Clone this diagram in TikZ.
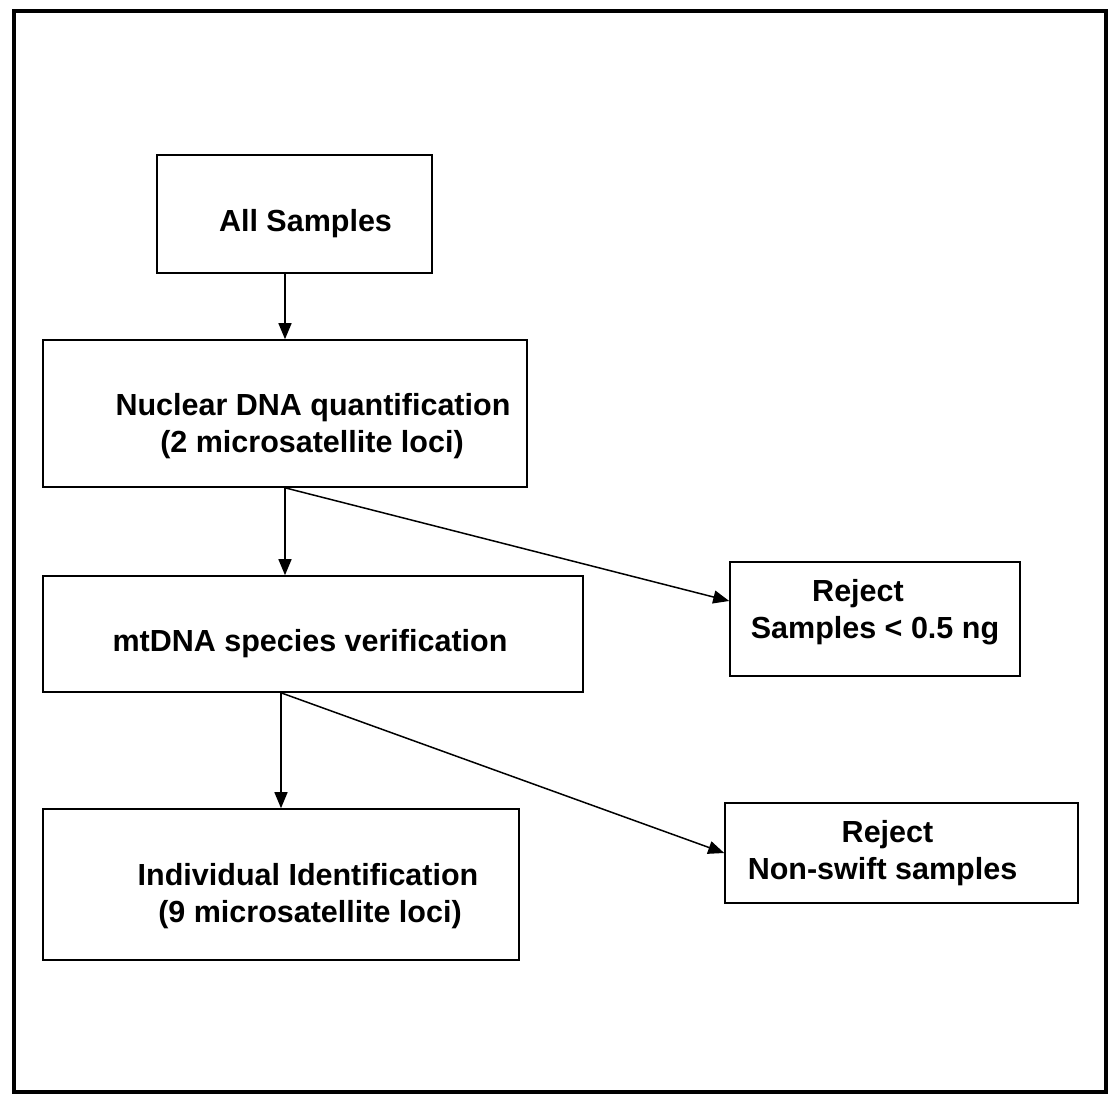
\documentclass[tikz,border=0pt]{standalone}
\usepackage{fontspec}
\setmainfont{Liberation Sans}
\usetikzlibrary{arrows.meta}
% move a line of text inside its box without changing the box
\newcommand{\nudge}[3]{\raisebox{#2}[\height][\depth]{\hspace*{#1}#3\hspace*{-#1}}}
\begin{document}
\begin{tikzpicture}[x=1pt,y=-1pt,
  stepbox/.style={draw, line width=1.6pt, align=center, inner sep=0pt,
    font=\fontsize{30.5}{37}\selectfont\bfseries},
  flow/.style={line width=1.5pt, -{Triangle[length=16pt,width=13pt]}}]
\useasboundingbox (0,0) rectangle (1108,1099);
\draw[line width=4pt] (14,11) rectangle (1106,1092);
\node[stepbox, minimum width=275pt, minimum height=118pt] (all) at (294.5,214) {\nudge{11pt}{-10pt}{All Samples}};
\node[stepbox, minimum width=484pt, minimum height=147pt] (nuc) at (285,413.5) {\nudge{28pt}{-13pt}{Nuclear DNA quantification}\\\nudge{27pt}{-13pt}{(2 microsatellite loci)}};
\node[stepbox, minimum width=540pt, minimum height=116pt] (mt) at (313,634) {\nudge{-3pt}{-10pt}{mtDNA species verification}};
\node[stepbox, minimum width=476pt, minimum height=151pt] (ind) at (281,884.5) {\nudge{27pt}{-12pt}{Individual Identification}\\\nudge{29pt}{-12pt}{(9 microsatellite loci)}};
\node[stepbox, minimum width=290pt, minimum height=114pt] (rej1) at (875,619) {\nudge{-17pt}{7pt}{Reject}\\\nudge{0pt}{7pt}{Samples < 0.5 ng}};
\node[stepbox, minimum width=353pt, minimum height=100pt] (rej2) at (901.5,853) {\nudge{-14pt}{0pt}{Reject}\\\nudge{-19pt}{0pt}{Non-swift samples}};
\draw[flow] (all.south -| nuc.south) -- (nuc.north);
\draw[flow] (nuc.south) -- (nuc.south |- mt.north);
\draw[flow] (nuc.south) -- ([yshift=18pt]rej1.west);
\draw[flow] (mt.south -| ind.north) -- (ind.north);
\draw[flow] (mt.south -| ind.north) -- (rej2.west);
\end{tikzpicture}
\end{document}
